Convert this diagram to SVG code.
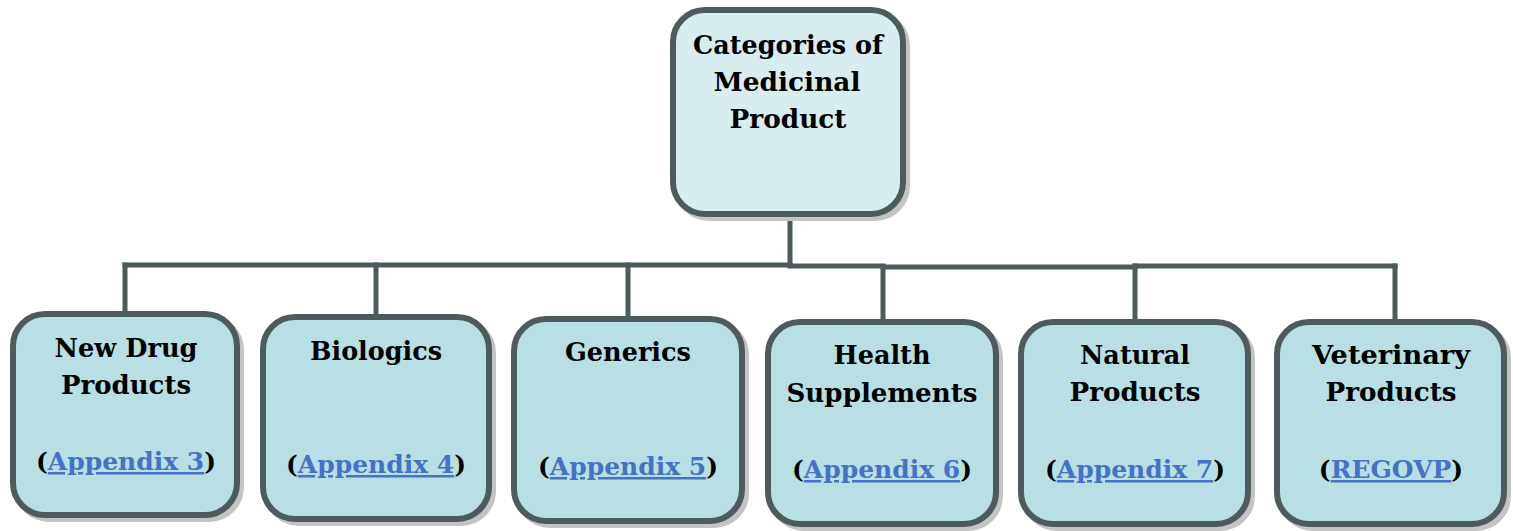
<svg xmlns="http://www.w3.org/2000/svg" width="1513" height="531" viewBox="0 0 1513 531">
<style>
.shadow{fill:#c4c4c4;stroke:#c4c4c4;stroke-width:6}
.box{fill:#b8dfe3;stroke:#4d5b5c;stroke-width:6}
.top{fill:#d8edf0;stroke:#4d5b5c;stroke-width:6}
.conn{fill:none;stroke:#4d5b5c;stroke-width:5;stroke-linecap:square}
text{font-family:"DejaVu Serif","Liberation Serif",serif;font-weight:bold;font-size:26.5px;fill:#000;text-anchor:middle}
text.ap{font-size:25px}
.lnk{fill:#4472c4;text-decoration:underline}
</style>
<rect width="1513" height="531" fill="#fff"/>
<g id="connectors">
<path class="conn" d="M790,216 V265"/>
<path class="conn" d="M125,265 H790"/>
<path class="conn" d="M790,266 H883"/>
<path class="conn" d="M883,267 H1135"/>
<path class="conn" d="M1135,266 H1395"/>
<path class="conn" d="M125,265 V311"/>
<path class="conn" d="M376,265 V314"/>
<path class="conn" d="M628,265 V316"/>
<path class="conn" d="M883,267 V319"/>
<path class="conn" d="M1135,266 V319"/>
<path class="conn" d="M1395,266 V319"/>
</g>
<g id="node-root">
<rect class="shadow" x="677" y="14" width="230" height="204" rx="32"/>
<rect class="top" x="673" y="10" width="230" height="204" rx="32"/>
<text x="788" y="54" textLength="190" lengthAdjust="spacingAndGlyphs">Categories of</text>
<text x="787" y="91" textLength="147" lengthAdjust="spacingAndGlyphs">Medicinal</text>
<text x="788" y="128" textLength="117" lengthAdjust="spacingAndGlyphs">Product</text>
</g>
<g id="node-newdrug">
<rect class="shadow" x="17" y="318" width="224" height="201" rx="32"/>
<rect class="box" x="13" y="314" width="224" height="201" rx="32"/>
<text x="126" y="357" textLength="143" lengthAdjust="spacingAndGlyphs">New Drug</text>
<text x="126" y="394" textLength="130" lengthAdjust="spacingAndGlyphs">Products</text>
<text class="ap" x="126" y="470">(<tspan class="lnk">Appendix 3</tspan>)</text>
</g>
<g id="node-biologics">
<rect class="shadow" x="267" y="321" width="226" height="202" rx="32"/>
<rect class="box" x="263" y="317" width="226" height="202" rx="32"/>
<text x="376" y="360" textLength="132" lengthAdjust="spacingAndGlyphs">Biologics</text>
<text class="ap" x="376" y="473">(<tspan class="lnk">Appendix 4</tspan>)</text>
</g>
<g id="node-generics">
<rect class="shadow" x="518" y="323" width="228" height="202" rx="32"/>
<rect class="box" x="514" y="319" width="228" height="202" rx="32"/>
<text x="628" y="361" textLength="126" lengthAdjust="spacingAndGlyphs">Generics</text>
<text class="ap" x="628" y="475">(<tspan class="lnk">Appendix 5</tspan>)</text>
</g>
<g id="node-health">
<rect class="shadow" x="772" y="326" width="228" height="202" rx="32"/>
<rect class="box" x="768" y="322" width="228" height="202" rx="32"/>
<text x="882" y="364" textLength="97" lengthAdjust="spacingAndGlyphs">Health</text>
<text x="882" y="402" textLength="191" lengthAdjust="spacingAndGlyphs">Supplements</text>
<text class="ap" x="882" y="478">(<tspan class="lnk">Appendix 6</tspan>)</text>
</g>
<g id="node-natural">
<rect class="shadow" x="1025" y="326" width="227" height="202" rx="32"/>
<rect class="box" x="1021" y="322" width="227" height="202" rx="32"/>
<text x="1135" y="364" textLength="110" lengthAdjust="spacingAndGlyphs">Natural</text>
<text x="1135" y="401" textLength="131" lengthAdjust="spacingAndGlyphs">Products</text>
<text class="ap" x="1135" y="478">(<tspan class="lnk">Appendix 7</tspan>)</text>
</g>
<g id="node-veterinary">
<rect class="shadow" x="1281" y="326" width="227" height="202" rx="32"/>
<rect class="box" x="1277" y="322" width="227" height="202" rx="32"/>
<text x="1391" y="364" textLength="158" lengthAdjust="spacingAndGlyphs">Veterinary</text>
<text x="1391" y="401" textLength="131" lengthAdjust="spacingAndGlyphs">Products</text>
<text class="ap" x="1391" y="478">(<tspan class="lnk">REGOVP</tspan>)</text>
</g>
</svg>
